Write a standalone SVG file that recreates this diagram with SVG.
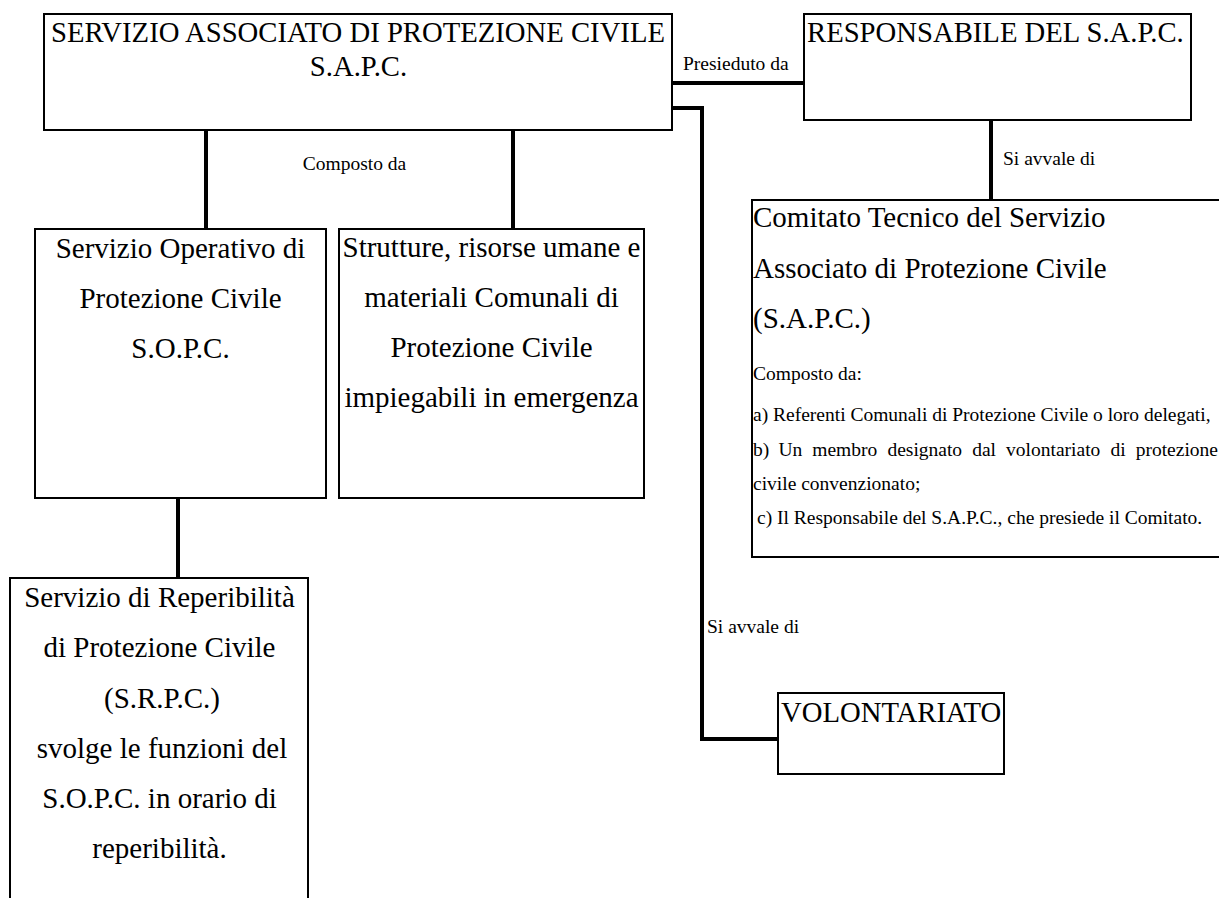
<svg xmlns="http://www.w3.org/2000/svg" width="1219" height="898" viewBox="0 0 1219 898">
<style>
.box{fill:#fff;stroke:#000;stroke-width:2}
.conn{fill:none;stroke:#000;stroke-width:4}
text{font-family:"Liberation Serif","Times New Roman",serif;fill:#000}
.big{font-size:29px}
.cap{font-size:28.7px}
.small{font-size:19.5px}
.mid{text-anchor:middle}
</style>
<rect width="1219" height="898" fill="#fff"/>
<g id="connectors">
<path class="conn" d="M672,83 H803"/>
<path class="conn" d="M991,120 V200"/>
<path class="conn" d="M672,108 H702 V739 H778"/>
<path class="conn" d="M206,130 V229"/>
<path class="conn" d="M513,130 V229"/>
<path class="conn" d="M178,498 V578"/>
<text class="small" x="683" y="70">Presieduto da</text>
<text class="small" x="1003" y="165">Si avvale di</text>
<text class="small mid" x="354.5" y="170">Composto da</text>
<text class="small" x="707" y="633">Si avvale di</text>
</g>
<g id="sapc">
<rect class="box" x="44" y="14" width="628" height="116"/>
<text class="cap mid" x="358" y="42">SERVIZIO ASSOCIATO DI PROTEZIONE CIVILE</text>
<text class="cap mid" x="358.5" y="76">S.A.P.C.</text>
</g>
<g id="responsabile">
<rect class="box" x="804" y="14" width="387" height="106"/>
<text class="cap" x="807" y="42">RESPONSABILE DEL S.A.P.C.</text>
</g>
<g id="comitato">
<rect class="box" x="752" y="200" width="480" height="357"/>
<text class="big" x="753" y="227">Comitato Tecnico del Servizio</text>
<text class="big" x="753" y="278">Associato di Protezione Civile</text>
<text class="big" x="753" y="328">(S.A.P.C.)</text>
<text class="small" x="753" y="380">Composto da:</text>
<text class="small" x="753" y="421">a) Referenti Comunali di Protezione Civile o loro delegati,</text>
<text class="small" y="456"><tspan x="753">b)</tspan><tspan x="778.5">Un</tspan><tspan x="812.3">membro</tspan><tspan x="887.4">designato</tspan><tspan x="972.2">dal</tspan><tspan x="1006.1">volontariato</tspan><tspan x="1110.4">di</tspan><tspan x="1135.7">protezione</tspan></text>
<text class="small" x="753" y="490">civile convenzionato;</text>
<text class="small" x="757" y="524">c) Il Responsabile del S.A.P.C., che presiede il Comitato.</text>
</g>
<g id="sopc">
<rect class="box" x="35" y="229" width="291" height="269"/>
<text class="big mid" x="180.5" y="258">Servizio Operativo di</text>
<text class="big mid" x="180.5" y="308">Protezione Civile</text>
<text class="big mid" x="180.5" y="358">S.O.P.C.</text>
</g>
<g id="strutture">
<rect class="box" x="339" y="229" width="305" height="269"/>
<text class="big mid" x="491.5" y="257">Strutture, risorse umane e</text>
<text class="big mid" x="491.5" y="307">materiali Comunali di</text>
<text class="big mid" x="491.5" y="357">Protezione Civile</text>
<text class="big mid" x="491.5" y="407">impiegabili in emergenza</text>
</g>
<g id="srpc">
<rect class="box" x="10" y="578" width="298" height="330"/>
<text class="big mid" x="159.5" y="607">Servizio di Reperibilità</text>
<text class="big mid" x="159.5" y="657">di Protezione Civile</text>
<text class="big mid" x="162" y="708">(S.R.P.C.)</text>
<text class="big mid" x="162" y="758">svolge le funzioni del</text>
<text class="big mid" x="159.5" y="808">S.O.P.C. in orario di</text>
<text class="big mid" x="159.5" y="858">reperibilità.</text>
</g>
<g id="volontariato">
<rect class="box" x="778" y="693" width="226" height="81"/>
<text class="cap" x="781" y="722">VOLONTARIATO</text>
</g>
</svg>
